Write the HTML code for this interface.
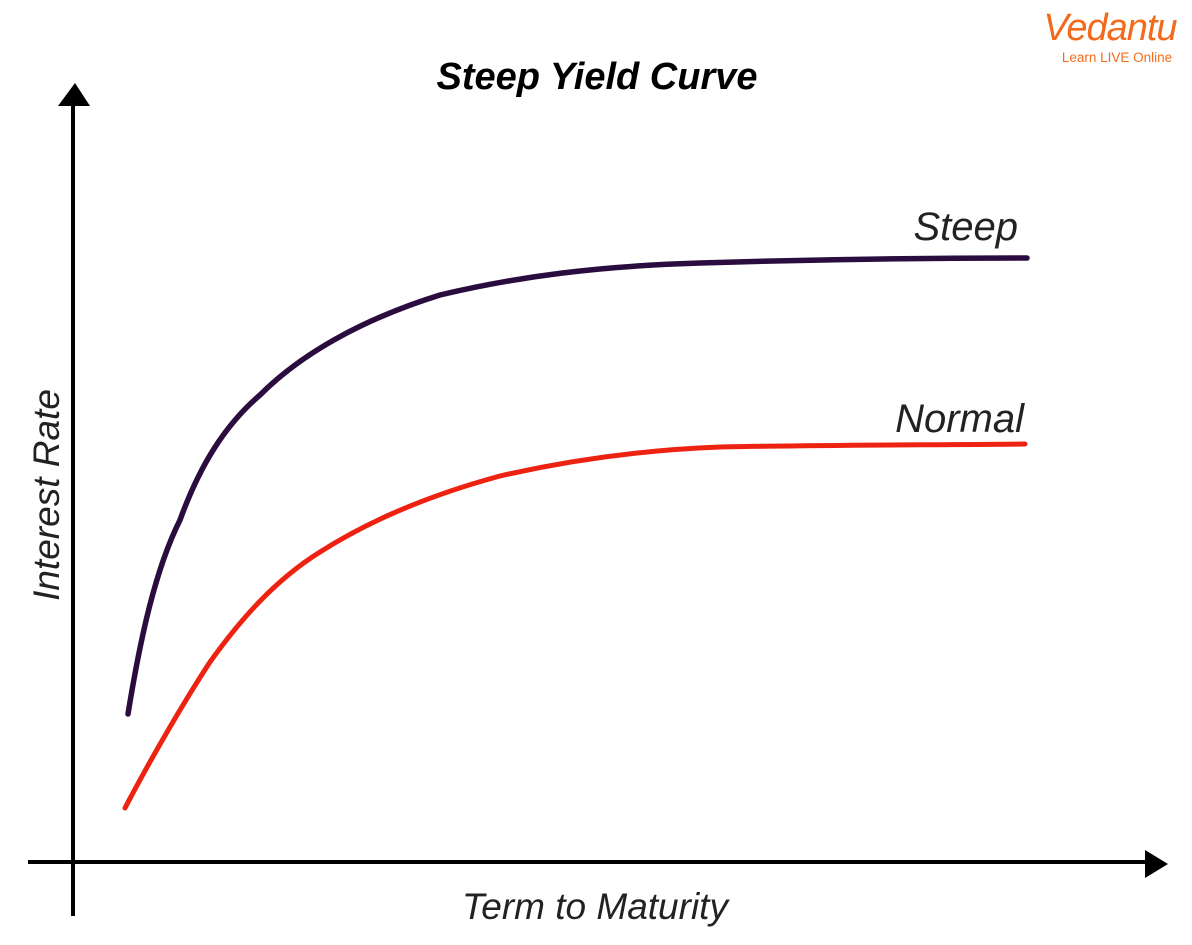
<!DOCTYPE html>
<html><head><meta charset="utf-8"><style>
html,body{margin:0;padding:0;background:#fff;}
body{width:1192px;height:940px;overflow:hidden;}
</style></head><body>
<svg width="1192" height="940" viewBox="0 0 1192 940" xmlns="http://www.w3.org/2000/svg">
<text x="597" y="89" text-anchor="middle" font-family="Liberation Sans, sans-serif" font-weight="bold" font-style="italic" font-size="38">Steep Yield Curve</text>
<text x="1110" y="40" text-anchor="middle" font-family="Liberation Sans, sans-serif" font-style="italic" font-size="38" fill="#f26b1d" letter-spacing="-1">Vedantu</text>
<text x="1117" y="62" text-anchor="middle" font-family="Liberation Sans, sans-serif" font-size="13.5" fill="#f26b1d">Learn LIVE Online</text>
<line x1="73" y1="100" x2="73" y2="916" stroke="#000" stroke-width="4"/>
<polygon points="75,83 58,106 90,106" fill="#000"/>
<line x1="28" y1="862" x2="1150" y2="862" stroke="#000" stroke-width="4"/>
<polygon points="1168,864 1145,850 1145,878" fill="#000"/>
<path d="M128,714 C140,640 155,570 180,520 C200,465 225,425 260,395 C300,355 360,320 440,295 C520,276 600,266 700,263 C800,260 900,258 1027,258" fill="none" stroke="#2a0c3e" stroke-width="5.5" stroke-linecap="round"/>
<path d="M125,808 C150,760 185,700 210,662 C240,620 275,580 320,552 C370,520 430,495 500,476 C570,460 640,450 720,447 C820,445 920,445 1025,444" fill="none" stroke="#ee2211" stroke-width="5" stroke-linecap="round"/>
<text x="1018" y="240" text-anchor="end" font-family="Liberation Sans, sans-serif" font-style="italic" font-size="40" fill="#222">Steep</text>
<text x="1024" y="432" text-anchor="end" font-family="Liberation Sans, sans-serif" font-style="italic" font-size="40" fill="#222">Normal</text>
<text transform="translate(59,495) rotate(-90)" text-anchor="middle" font-family="Liberation Sans, sans-serif" font-style="italic" font-size="37" fill="#222">Interest Rate</text>
<text x="595" y="919" text-anchor="middle" font-family="Liberation Sans, sans-serif" font-style="italic" font-size="37" fill="#222">Term to Maturity</text>
</svg>
</body></html>
